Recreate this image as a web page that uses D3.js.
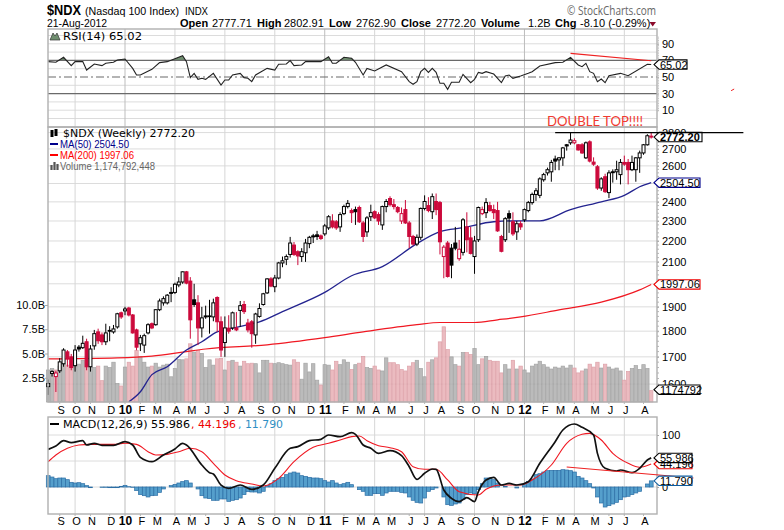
<!DOCTYPE html>
<html>
<head>
<meta charset="utf-8">
<script src="https://cdn.jsdelivr.net/npm/d3@7/dist/d3.min.js"></script>
<style>
body { margin: 0; background: #fff; }
svg { display: block; }
text { font-family: "Liberation Sans", Arial, sans-serif; fill: #000; }
.mono { font-family: "DejaVu Sans", Verdana, sans-serif; }
.axis text { font-size: 11px; }
.axis path { display: none; }
.axis line { stroke: #a8a8a8; }
</style>
</head>
<body>
<svg id="chart" width="784" height="530"></svg>
<script>
// weekly bars, Aug 2009 - Aug 2012
const candleOpen = [
1591,1638,1627,1648,1674,1719,1700,1667,1737,1735,
1758,1663,1742,1797,1785,1758,1803,1797,1817,1875,
1883,1895,1866,1805,1750,1745,1793,1830,1826,1888,
1917,1917,1962,1962,1995,2008,2054,2012,1930,1917,
1813,1862,1862,1858,1940,1838,1755,1812,1813,1813,
1885,1910,1833,1838,1785,1860,1910,1960,2022,1987,
2026,2095,2112,2135,2180,2148,2125,2143,2187,2225,
2230,2225,2235,2265,2300,2296,2270,2338,2375,2354,
2359,2370,2290,2245,2322,2348,2333,2280,2375,2418,
2385,2370,2300,2359,2290,2222,2185,2218,2365,2380,
2348,2402,2396,2125,2190,2165,2190,2115,2145,2270,
2215,2125,2206,2338,2343,2380,2359,2354,2222,2206,
2338,2296,2245,2286,2306,2354,2396,2440,2435,2521,
2560,2566,2640,2635,2647,2725,2737,2737,2725,2725,
2647,2743,2622,2595,2475,2538,2450,2566,2566,2550,
2620,2620,2578,2578,2647,2676,2725,2777.71];
const candleHigh = [
1616,1650,1648,1695,1733,1726,1711,1745,1745,1782,
1770,1745,1805,1810,1795,1830,1820,1825,1875,1880,
1900,1900,1870,1810,1785,1790,1832,1835,1890,1935,
1945,1955,1985,2005,2030,2056,2058,2030,2000,1950,
1900,1905,1930,1935,1945,1860,1860,1865,1880,1878,
1925,1925,1850,1845,1875,1915,1960,2025,2030,2040,
2100,2125,2135,2220,2195,2155,2165,2210,2225,2235,
2250,2232,2285,2330,2335,2305,2345,2385,2410,2365,
2375,2380,2300,2325,2385,2355,2345,2380,2415,2430,
2415,2378,2370,2410,2300,2230,2232,2370,2435,2425,
2445,2445,2405,2180,2200,2185,2270,2205,2315,2345,
2270,2225,2375,2375,2420,2400,2385,2400,2230,2320,
2355,2345,2300,2300,2365,2405,2450,2475,2535,2560,
2590,2635,2660,2652,2712,2730,2800,2765,2730,2735,
2745,2752,2650,2605,2535,2555,2575,2580,2630,2640,
2660,2640,2660,2652,2690,2730,2790,2802.91];
const candleLow = [
1562,1627,1572,1640,1663,1663,1650,1645,1720,1730,
1650,1645,1727,1750,1745,1745,1760,1790,1810,1850,
1865,1860,1790,1725,1722,1715,1787,1808,1822,1882,
1905,1910,1920,1955,1985,2000,1998,1770,1900,1745,
1775,1850,1790,1840,1797,1700,1700,1790,1805,1800,
1817,1870,1795,1735,1750,1855,1905,1955,1985,1963,
2020,2075,2085,2120,2128,2085,2100,2100,2165,2190,
2205,2205,2225,2255,2262,2255,2245,2330,2365,2290,
2280,2290,2195,2220,2300,2310,2280,2255,2345,2375,
2360,2340,2285,2285,2165,2178,2175,2205,2355,2345,
2310,2330,2135,2025,2028,2025,2155,2105,2130,2145,
2135,2045,2195,2330,2315,2348,2310,2245,2145,2195,
2240,2225,2205,2255,2295,2345,2385,2405,2420,2510,
2545,2510,2575,2575,2600,2690,2725,2728,2690,2670,
2640,2620,2600,2465,2460,2448,2420,2505,2521,2495,
2600,2495,2570,2510,2560,2665,2720,2762.90];
const candleClose = [
1602,1645,1640,1681,1726,1692,1660,1726,1730,1752,
1663,1730,1790,1762,1758,1793,1800,1809,1871,1858,
1891,1866,1793,1737,1774,1782,1826,1813,1888,1925,
1935,1950,1958,1998,2008,2054,2003,1846,1910,1813,
1854,1858,1859,1917,1838,1726,1813,1800,1875,1805,
1905,1880,1805,1790,1870,1893,1956,2022,1990,2026,
2095,2105,2125,2190,2135,2128,2148,2190,2218,2220,
2222,2212,2275,2322,2270,2265,2333,2375,2392,2343,
2348,2296,2222,2316,2343,2316,2300,2375,2402,2385,
2375,2348,2338,2290,2222,2185,2218,2365,2402,2354,
2428,2359,2196,2170,2033,2085,2165,2160,2306,2206,
2140,2200,2370,2359,2396,2354,2343,2250,2150,2312,
2315,2235,2286,2270,2359,2396,2440,2460,2526,2550,
2578,2620,2628,2647,2706,2718,2754,2750,2694,2676,
2737,2628,2610,2475,2526,2455,2560,2561,2578,2620,
2610,2578,2620,2647,2676,2725,2780.3,2772.20];

// volume, billions
const volume = [
3.3,3.45,3.3,3.7,3.9,3.8,3.55,3.7,3.9,4.3,
3.6,3.6,3.55,3.7,2.2,3.7,3.55,4.1,1.9,1.65,
3.6,4.1,3.7,5.3,4.7,4.1,3.6,3.7,4.0,3.6,
3.8,3.9,2.6,3.45,4.4,4.35,4.45,6.0,5.15,5.3,
5.0,3.55,4.35,3.8,4.45,4.5,3.3,4.2,4.3,4.1,
3.7,4.2,3.95,4.0,3.95,3.0,4.3,4.3,4.0,3.95,
4.05,3.95,3.85,3.8,4.35,4.1,2.35,4.0,3.1,3.95,
2.25,1.75,3.85,3.8,3.3,4.2,3.85,4.35,4.1,3.35,
3.85,4.0,4.7,3.55,3.45,3.7,3.3,3.2,4.55,4.05,
4.05,3.85,3.35,3.2,3.7,4.05,4.3,3.45,2.6,4.1,
4.35,4.55,6.2,7.75,5.4,4.65,3.85,3.7,5.1,5.1,
4.9,5.5,3.85,4.45,4.7,4.3,4.2,4.2,3.0,3.85,
3.4,4.3,3.4,3.7,3.3,3.0,3.7,3.9,4.2,3.85,
3.6,3.4,3.6,3.5,3.7,3.5,3.8,3.5,3.0,3.2,
3.4,3.9,3.6,4.1,3.5,3.9,3.6,3.4,3.5,3.2,
2.25,3.15,3.45,3.75,3.35,3.85,3.45,1.17];

// moving averages, readings at selected weeks
const ma50Week = [21,24,27,31,36,40,44,47,52,55,61,72,79,87,96,102,108,116,123,128,136,144,150,154,157];
const ma50Value = [1538,1573,1634,1663,1726,1758,1797,1809,1826,1838,1880,1962,2036,2078,2187,2246,2266,2296,2301,2301,2359,2400,2435,2482,2504.5];
const ma200Week = [0,18,27,35,41,57,72,82,96,102,111,117,123,133,144,154,157];
const ma200Value = [1692,1696,1703,1718,1730,1746,1774,1797,1826,1835,1835,1846,1858,1887,1920,1973,1997.06];

// RSI(14)
const rsiWeek = [0,2,4,6,7,9,10,12,14,15,17,18,20,22,23,24,27,29,31,35,36,37,38,39,40,41,43,45,46,47,48,50,51,52,53,54,57,59,60,62,63,64,66,67,71,73,74,75,77,79,
80,82,83,85,88,92,94,95,96,97,98,99,100,101,102,103,104,105,107,108,110,111,112,113,114,116,118,119,120,121,123,125,126,128,132,134,136,138,139,140,141,142,143,144,145,146,149,151,156,157];
const rsiValue = [68.5,67.7,73.7,63.7,68.5,68.5,58.4,65.7,63.7,66.5,67.7,70.5,71.7,60.4,52.4,52.4,59.2,67.3,68.5,75.7,68.5,49.2,54.4,47.2,48.4,47.2,54.4,40.4,46.4,46.4,52.4,54.4,49.2,48.4,44.4,52.4,60.4,58.4,65.3,65.7,69.7,63.7,64.5,68.5,68.5,74.5,66.5,66.5,73.7,72.5,
67.7,52.4,60.4,57.2,64.5,56.4,44.4,41.2,44.4,56.4,60.4,55.6,60.4,55.6,42.4,42.4,35.1,43.6,43.6,53.2,43.2,47.2,55.6,54.4,56.4,53.6,43.2,51.2,52.4,48.4,51.2,54.4,56.4,63.3,67.3,67.7,73.7,64.5,62.4,66.5,56.4,54.4,44.4,47.6,43.2,51.6,54.4,51.6,65.3,65.02];

// MACD(12,26,9)
const macdWeek = [0,2,4,6,9,10,12,14,17,20,22,24,27,30,33,35,36,40,42,43,45,47,50,53,56,59,63,65,68,71,73,76,
79,80,82,84,86,89,92,94,96,98,100,101,103,105,107,109,111,112,114,116,118,120,122,125,128,132,134,137,139,142,143,145,148,149,152,154,156,157];
const macdValue = [72.4,78.8,89.1,85.3,89.1,80.8,84,80.1,80.1,87.2,80.8,57,48.7,61.5,73.1,84,80.8,42.3,27.6,25,3.8,-2.6,3.8,-4.5,3.8,35.9,74.4,77.6,89.1,91.7,100,96.8,
104.5,101.3,80.8,74.4,64.7,69.9,60.3,39.1,14.7,26.3,34.6,34,-5.8,-21.8,-28.2,-20.5,-28.2,-9,13.5,18.6,3.8,7,3.8,10.3,45.5,87.2,109.6,121.2,114.7,100,64.7,35.9,30.8,32.7,27.6,35.9,51.9,55.986];
const signalWeek = [0,2,5,8,11,17,20,23,26,28,31,34,37,40,43,46,49,53,56,60,64,69,73,76,
79,81,83,86,89,92,95,98,101,104,107,112,114,118,123,126,131,135,139,141,144,147,151,154,155,157];
const signalValue = [48.7,61.5,74.4,80.8,82,82,84,82,67.9,61.5,62.8,67.9,74.4,67.9,45.5,23.1,12.2,5.8,1.9,16.7,48.7,76.3,84,90.4,
96.8,98,89.1,79.5,75.6,67.9,39.1,34,34,13.5,-9,-15.4,-4.5,3.8,3.8,13.5,42.3,84,101.3,103.2,90.4,64.7,45.5,37.8,39.1,44.196];
const macdHist = [
21.8,19.2,16,17.3,17.3,14.1,9,7.7,8.3,6.4,
2.6,-1.3,0,0,-.6,-.6,-1.3,-1.3,-1.3,1.3,
3.2,.6,-.6,-7,-14.7,-16.7,-19.2,-16.7,-16,-10.3,
-3.8,0,2.6,5.1,7.7,10.3,12.2,7.7,0,-3.8,
-16.7,-21.2,-22.4,-25.6,-25.6,-23,-23,-27.6,-25.6,-24.4,
-21.2,-14.7,-9,-9.6,-9.6,-11.5,-8.3,2.6,6.4,12.2,
16,18.6,23.7,26.9,28.8,26.9,21.8,20.5,18.6,17.3,
17.3,16,12.2,9.6,12.2,7.7,4.5,6.4,9,4.5,
0,-5.1,-8.3,-16,-16,-12.8,-12.8,-16,-11.5,-8.3,
-8.3,-8.3,-10.3,-11.5,-19.2,-25.6,-29.5,-30.8,-21.2,-8.3,
-5.1,-1.9,0,-19.2,-34,-35.3,-32.7,-30.8,-24.4,-14.7,
-11.5,-12.8,-5.1,6.4,17.3,17.3,14.1,7.7,0,1.3,
0,0,-1.9,0,4.5,10.9,15.4,23.7,25.6,28.8,
31.4,32,32,32,33.3,32.7,31.4,28.8,20.5,17.3,
12.2,6.4,-1.9,-19.2,-30.8,-38.5,-35.9,-32.7,-29.5,-24.4,
-19.2,-17.9,-14.7,-11.5,-8.3,0,5.8,11.79];

// axis stuff
const monthWeek = [3,7,11,16,20,24,28,33,37,41,46,50,55,59,63,68,72,77,81,85,89,94,98,102,107,111,116,120,124,129,133,137,142,146,150,155];
const monthLabel = ["S","O","N","D","10","F","M","A","M","J","J","A","S","O","N","D","11","F","M","A","M","J","J","A","S","O","N","D","12","F","M","A","M","J","J","A"];
const quarterWeek = [7,20,33,46,59,72,85,98,111,124,137,150];
const yearWeek = [20,72,124];
const priceGrid = [2800,2700,2600,2500,2400,2300,2200,2100,2000,1900,1800,1700,1600];
const priceLabels = [2800,2700,2600,2400,2300,2200,2100,1900,1800,1700,1600]; // 2500, 2000 sit fully under the value tags
const volumeTicks = [2.5,5,7.5,10];
const rsiLabels = [90,70,50,30,10];
const rsiGrid = [100,90,80,60,40,20,10,0];
const macdGrid = [100,50,0];
const macdLabels = [100,0];

// hand drawn notes on the original
const topLineWeek = [132,181], topLinePrice = [2800,2800];
const rsiTrendWeek = [136,157], rsiTrendValue = [78.5,69.5];
const macdTrendWeek = [135,168], macdTrendValue = [38.5,17.3];
const strayWeek = [177.8,178.6], strayValue = [33.5,35.5];

const svg = d3.select('#chart');
const left = 48, right = 657;

const x = d3.scaleLinear().domain([0,157]).range([48.2,651.2]);
const yPrice = d3.scaleLog().domain([1537.5,2835]).range([402,127]);
const yVol = d3.scaleLinear().domain([0,10]).range([402,305]);
const yRsi = d3.scaleLinear().domain([0,100]).range([118.5,35.5]);
const yMacd = d3.scaleLinear().domain([0,100]).range([487,435]);

svg.append('defs').append('clipPath').attr('id','priceClip').append('rect')
    .attr('x',left).attr('y',127).attr('width',right-left).attr('height',275);
svg.select('defs').append('clipPath').attr('id','above70').append('rect')
    .attr('x',left).attr('y',29).attr('width',right-left).attr('height',yRsi(70)-29);

const frames = [[29,127],[127,402],[417,514]];

const drawGrid = (top,bottom,levels) => {
    const g = svg.append('g');
    g.selectAll('line.h').data(levels).enter().append('line').attr('class','h')
        .attr('x1',left).attr('x2',right).attr('y1',d => d).attr('y2',d => d)
        .attr('stroke','#dcdcdc').attr('stroke-width',1);
    g.selectAll('line.v').data(quarterWeek).enter().append('line').attr('class','v')
        .attr('x1',d => x(d)).attr('x2',d => x(d)).attr('y1',top).attr('y2',bottom)
        .attr('stroke',d => yearWeek.includes(d) ? '#bdbdbd' : '#d6d6d6').attr('stroke-width',1);
}

drawGrid(29,127,rsiGrid.map(yRsi));
drawGrid(127,402,priceGrid.map(d => yPrice(d)));
drawGrid(417,514,macdGrid.map(yMacd));

// RSI panel
const rsiPts = rsiWeek.map((w,i) => [w,rsiValue[i]]);
svg.append('path').datum(rsiPts).attr('clip-path','url(#above70)').attr('fill','#6f8f6f')
    .attr('d',d3.area().x(d => x(d[0])).y0(yRsi(70)).y1(d => yRsi(d[1])));
[[70,null],[30,null],[50,'8,3,2,3']].forEach(r => {
    svg.append('line').attr('x1',left).attr('x2',right).attr('y1',yRsi(r[0])).attr('y2',yRsi(r[0]))
        .attr('stroke','#6a6a6a').attr('stroke-width',1.2).attr('stroke-dasharray',r[1]);
});
svg.append('path').datum(rsiPts).attr('fill','none').attr('stroke','#222').attr('stroke-width',1.1)
    .attr('d',d3.line().x(d => x(d[0])).y(d => yRsi(d[1])));

// volume under the candles, grid shows through it
const isDown = i => i > 0 && candleClose[i] < candleClose[i-1];
svg.append('g').attr('opacity',0.85).selectAll('rect').data(volume).enter().append('rect')
    .attr('x',(d,i) => x(i)-1.7).attr('width',3.4)
    .attr('y',d => yVol(d)).attr('height',d => 402-yVol(d))
    .attr('fill',(d,i) => isDown(i) ? '#e8b0b6' : '#b0b0b0')
    .attr('stroke',(d,i) => isDown(i) ? '#d8929b' : '#959595').attr('stroke-width',0.7);

// moving averages
const maLine = d3.line().x(d => x(d[0])).y(d => yPrice(d[1])).curve(d3.curveMonotoneX);
svg.append('path').datum(ma200Week.map((w,i) => [w,ma200Value[i]])).attr('clip-path','url(#priceClip)')
    .attr('fill','none').attr('stroke','#f01822').attr('stroke-width',1.2).attr('d',maLine);
svg.append('path').datum(ma50Week.map((w,i) => [w,ma50Value[i]])).attr('clip-path','url(#priceClip)')
    .attr('fill','none').attr('stroke','#23238f').attr('stroke-width',1.3).attr('d',maLine);

// candles
const bars = svg.append('g').selectAll('g').data(candleClose).enter().append('g');
const barColor = (d,i) => isDown(i) ? '#cc0a3c' : '#000';
bars.append('line')
    .attr('x1',(d,i) => x(i)).attr('x2',(d,i) => x(i))
    .attr('y1',(d,i) => yPrice(candleHigh[i])).attr('y2',(d,i) => yPrice(candleLow[i]))
    .attr('stroke',barColor).attr('stroke-width',1);
bars.append('rect')
    .attr('x',(d,i) => x(i)-1.5).attr('width',3)
    .attr('y',(d,i) => yPrice(Math.max(d,candleOpen[i])))
    .attr('height',(d,i) => Math.max(0.6,Math.abs(yPrice(d)-yPrice(candleOpen[i]))))
    .attr('fill',(d,i) => d < candleOpen[i] ? barColor(d,i) : '#fff')
    .attr('stroke',barColor).attr('stroke-width',1);

// MACD panel
svg.append('g').selectAll('rect').data(macdHist).enter().append('rect')
    .attr('x',(d,i) => x(i)-1.9).attr('width',3.84)
    .attr('y',d => Math.min(yMacd(d),yMacd(0)))
    .attr('height',d => Math.abs(yMacd(d)-yMacd(0)))
    .attr('fill','#559fcc').attr('stroke','#2c6ea5').attr('stroke-width',0.7);
const macdLine = d3.line().x(d => x(d[0])).y(d => yMacd(d[1])).curve(d3.curveMonotoneX);
svg.append('path').datum(signalWeek.map((w,i) => [w,signalValue[i]]))
    .attr('fill','none').attr('stroke','#f01822').attr('stroke-width',1.1).attr('d',macdLine);
svg.append('path').datum(macdWeek.map((w,i) => [w,macdValue[i]]))
    .attr('fill','none').attr('stroke','#111').attr('stroke-width',1.7).attr('d',macdLine);

// frames
frames.forEach(f => {
    svg.append('rect').attr('x',left).attr('y',f[0]).attr('width',right-left).attr('height',f[1]-f[0])
        .attr('fill','none').attr('stroke','#b0b0b0').attr('stroke-width',1.4);
});

// axes
const rightAxis = (scale,ticks) => svg.append('g').attr('class','axis')
    .attr('transform','translate(' + right + ',0)')
    .call(d3.axisRight(scale).tickValues(ticks).tickSize(2).tickPadding(3).tickFormat(d3.format('d')));
rightAxis(yRsi,rsiLabels);
rightAxis(yPrice,priceLabels);
rightAxis(yMacd,macdLabels);

// small minor ticks down the right edge
const minorPrice = d3.range(1600,2820,20);
svg.append('g').selectAll('line').data(minorPrice).enter().append('line')
    .attr('x1',right).attr('x2',right+2).attr('y1',d => yPrice(d)).attr('y2',d => yPrice(d))
    .attr('stroke','#b5b5b5');
svg.append('g').selectAll('line').data(d3.range(10,100,2)).enter().append('line')
    .attr('x1',right).attr('x2',right+2).attr('y1',d => yRsi(d)).attr('y2',d => yRsi(d))
    .attr('stroke','#c5c5c5');

svg.append('g').attr('class','axis').attr('transform','translate(' + left + ',0)')
    .call(d3.axisLeft(yVol).tickValues(volumeTicks).tickSize(3).tickPadding(0).tickFormat(d => d.toFixed(1) + 'B'));

[409.5,521].forEach((yy,k) => {
    svg.append('g').selectAll('text').data(monthLabel).enter().append('text')
        .attr('x',(d,i) => x(monthWeek[i]) + (d.length > 1 ? 0.5 : 1.5))
        .attr('y',yy + 4).attr('text-anchor','middle')
        .attr('font-size',d => d.length > 1 ? 12 : 11)
        .attr('font-weight',d => d.length > 1 ? 'bold' : 'normal')
        .text(d => d);
    const base = k === 0 ? 402 : 514;
    svg.append('g').selectAll('line').data(monthWeek).enter().append('line')
        .attr('x1',d => x(d)).attr('x2',d => x(d)).attr('y1',base).attr('y2',base+2)
        .attr('stroke','#b5b5b5');
});

// notes
const note = (xs,ys,scale,color,w) => svg.append('line')
    .attr('x1',x(xs[0])).attr('x2',x(xs[1])).attr('y1',scale(ys[0])).attr('y2',scale(ys[1]))
    .attr('stroke',color).attr('stroke-width',w);
note(rsiTrendWeek,rsiTrendValue,yRsi,'#ee2222',1.1);
note(macdTrendWeek,macdTrendValue,yMacd,'#ee2222',1.1);
note(strayWeek,strayValue,yRsi,'#ee2222',1);

// value tags
const tag = (yy,label,endX,color,bold) => {
    const g = svg.append('g');
    g.append('path')
        .attr('d','M654,' + yy + 'L659,' + (yy-4.7) + 'L' + endX + ',' + (yy-4.7) + 'L' + endX + ',' + (yy+4.7) + 'L659,' + (yy+4.7) + 'Z')
        .attr('fill','#fff').attr('stroke',color).attr('stroke-width',1.1);
    g.append('text').attr('x',660).attr('y',yy + 4).attr('font-size',11)
        .attr('font-weight',bold ? 'bold' : 'normal').text(label);
}
tag(yRsi(65.02),'65.02',687,'#000');
tag(yPrice(1997.06),'1997.06',700,'#e00');
tag(yPrice(2504.5),'2504.50',700,'#00008b');
tag(yPrice(2772.2),'2772.20',702,'#000',true);
tag(yVol(1.17)-1,'1174792',700,'#000');
tag(yMacd(44.196),'44.196',692,'#e00');
tag(yMacd(55.986),'55.986',692,'#000');
tag(yMacd(11.79),'11.790',692,'#0b5c9e');

note(topLineWeek,topLinePrice,yPrice,'#000',1.1);

// header
const label = (xx,yy,str,opts) => {
    const o = opts || {};
    const t = svg.append('text').attr('x',xx).attr('y',yy).text(str)
        .attr('font-size',o.size || 11);
    if (o.bold) t.attr('font-weight','bold');
    if (o.color) t.style('fill',o.color);
    if (o.cls) t.attr('class',o.cls);
    if (o.family) t.style('font-family',o.family);
    if (o.width) t.attr('textLength',o.width).attr('lengthAdjust','spacingAndGlyphs');
    return t;
}
label(47,15,'$NDX',{size:15,bold:true,width:34});
label(85,15,'(Nasdaq 100 Index)',{size:11.5,width:94});
label(185,15,'INDX',{size:11,width:23});
label(47,27,'21-Aug-2012',{size:11,width:60});
[[180,'Open',true],[212,'2777.71'],[257,'High',true],[284,'2802.91'],[329,'Low',true],[356,'2762.90'],
 [401,'Close',true],[436,'2772.20'],[481,'Volume',true],[528,'1.2B'],[555,'Chg',true],[580,'-8.10 (-0.29%)']]
    .forEach(h => label(h[0],27,h[1],{size:11,bold:h[2]}));
svg.append('path').attr('d','M649.5,22L656,22L652.7,26.5Z').attr('fill','#8b0a2a');
label(567,15,'\u00a9 StockCharts.com',{size:13,color:'#666',family:'"Open Sans"',width:89});
label(547,126,'DOUBLE TOP!!!!',{size:14,color:'#f03a30',family:'Lato',width:96});

// legends
label(63,40,'RSI(14) 65.02',{size:10.5,cls:'mono',width:79});
svg.append('path').attr('d','M50,40L53,33L55,36L57,33L60,40Z').attr('fill','#6f8f6f').attr('stroke','#333').attr('stroke-width',0.7);
label(63,137,'$NDX (Weekly) 2772.20',{size:10.5,cls:'mono',width:132});
svg.append('path').attr('d','M52,130V137M56,129V136').attr('stroke','#000').attr('stroke-width',3);
label(60,148,'MA(50) 2504.50',{size:11,color:'#00008b',width:69});
svg.append('line').attr('x1',50).attr('x2',58).attr('y1',144).attr('y2',144).attr('stroke','#00008b').attr('stroke-width',2);
label(60,159,'MA(200) 1997.06',{size:11,color:'#f00',width:74});
svg.append('line').attr('x1',50).attr('x2',58).attr('y1',155).attr('y2',155).attr('stroke','#f00').attr('stroke-width',2);
label(60,170,'Volume 1,174,792,448',{size:11,color:'#666',width:95});
svg.append('path').attr('d','M51.5,170V165M54.5,170V162M57.5,170V164').attr('stroke','#555').attr('stroke-width',2.2);
svg.append('line').attr('x1',50).attr('x2',59).attr('y1',424).attr('y2',424).attr('stroke','#000').attr('stroke-width',2);
label(63,428,'MACD(12,26,9) 55.986',{size:10.5,cls:'mono',width:127});
label(191,428,', 44.196',{size:10.5,cls:'mono',color:'#e00',width:45});
label(238,428,', 11.790',{size:10.5,cls:'mono',color:'#2f8fc4',width:45});
</script>
</body>
</html>
